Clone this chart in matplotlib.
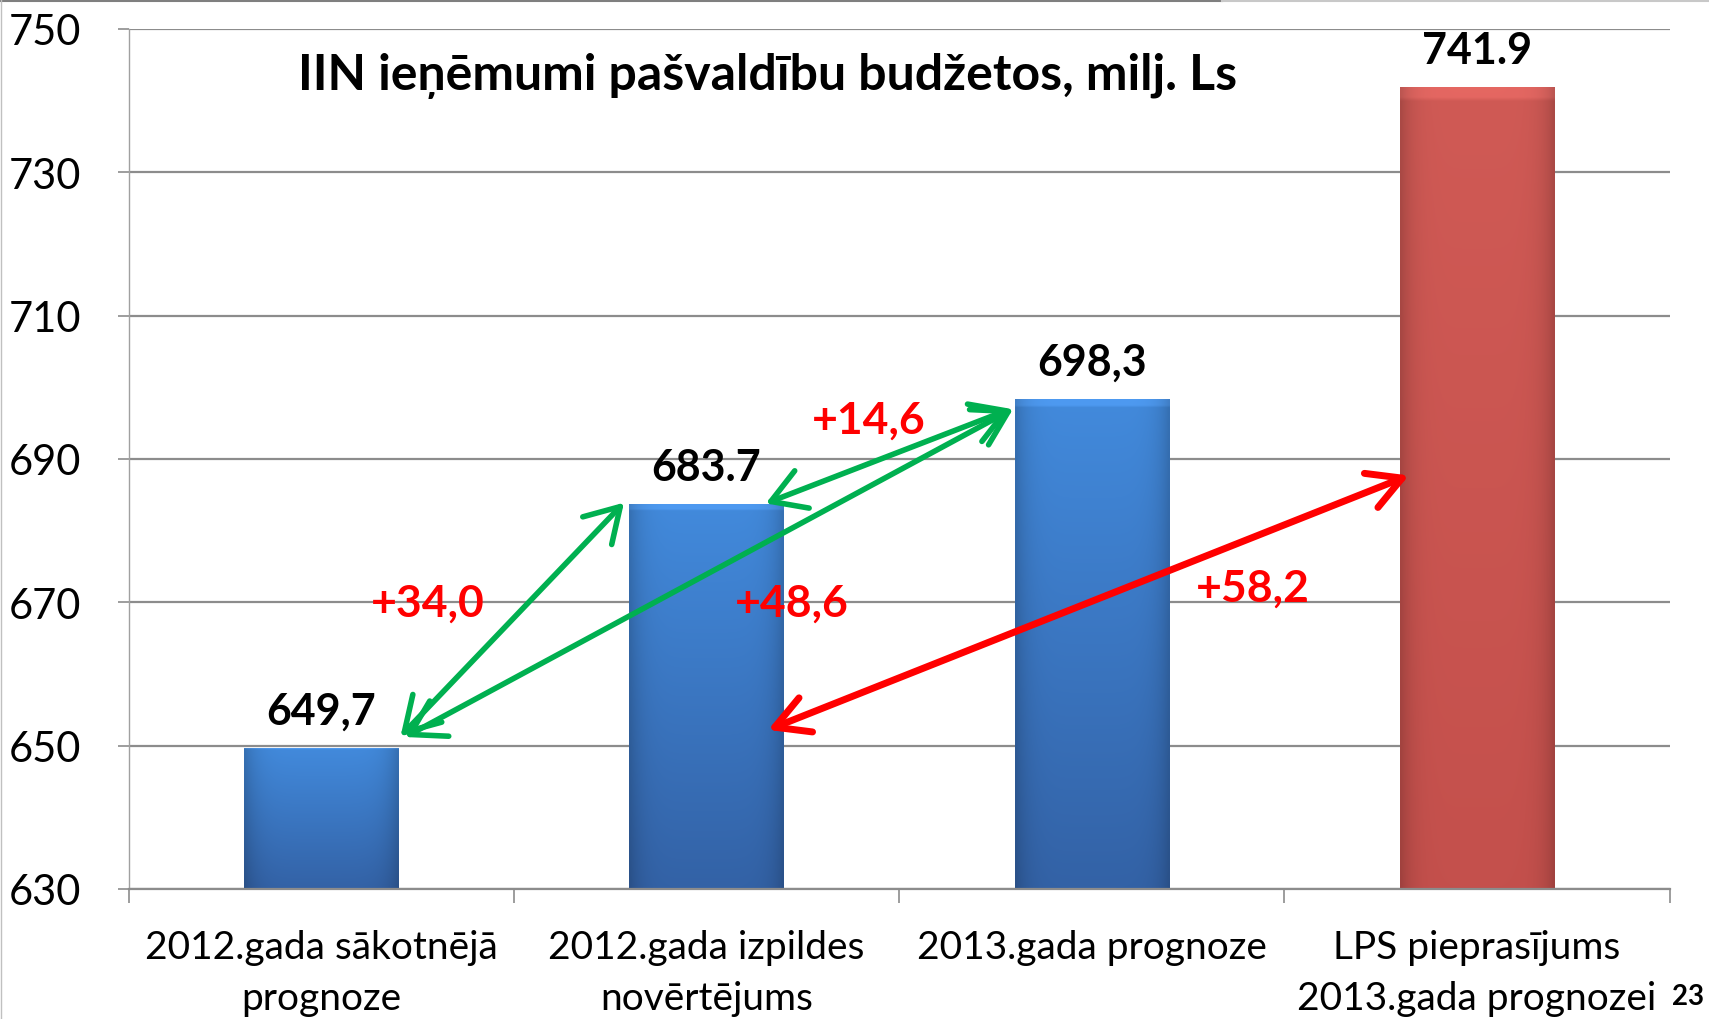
import numpy as np
import matplotlib.pyplot as plt
from matplotlib.lines import Line2D

plt.rcParams['font.family'] = ['Lato', 'DejaVu Sans']

# data
categories = ["2012.gada sākotnējā\nprognoze", "2012.gada izpildes\nnovērtējums",
              "2013.gada prognoze", "LPS pieprasījums\n2013.gada prognozei"]
values = [649.7, 683.7, 698.3, 741.9]
value_labels = ["649,7", "683.7", "698,3", "741.9"]
y_ticks = [630, 650, 670, 690, 710, 730, 750]
title = "IIN ieņēmumi pašvaldību budžetos, milj. Ls"

# difference arrows (x0, y0, x1, y1) in data units
green_arrows = [(0.206, 651.3, 0.786, 683.9),
                (0.218, 651.2, 1.796, 697.0),
                (1.154, 683.8, 1.790, 697.0)]
red_arrows = [(1.160, 652.2, 2.823, 687.7)]
diff_labels = ["+34,0", "+48,6", "+14,6", "+58,2"]
diff_x = [0.277, 1.222, 1.42, 2.419]
diff_y = [670.0, 670.0, 695.5, 672.0]

blue_top, blue_bot = np.array([0x42, 0x8A, 0xDC]) / 255, np.array([0x33, 0x62, 0xA6]) / 255
red_top, red_bot = np.array([0xD0, 0x5A, 0x55]) / 255, np.array([0xC4, 0x50, 0x4C]) / 255
bar_colors = [(blue_top, blue_bot)] * 3 + [(red_top, red_bot)]

fig = plt.figure(figsize=(17.09, 10.20), dpi=100)
ax = fig.add_axes([0.0752, 0.1275, 0.9018, 0.8431])

x = np.arange(len(values))
width = 0.40
ymin, ymax = 630, 750

bars = ax.bar(x, [v - ymin for v in values], width, bottom=ymin, color='none',
              edgecolor='none', zorder=2)

# gradient fill for each bar
for b, (top, bot) in zip(bars, bar_colors):
    n, m = 200, 60
    t = np.linspace(0, 1, n)[:, None, None]
    u = np.linspace(-1, 1, m)[None, :, None]
    img = top * (1 - t) + bot * t
    img = img * (1 - 0.18 * np.abs(u) ** 6)
    img[:3] = np.clip(img[:3] * 1.06 + 0.03, 0, 1)
    im = ax.imshow(np.clip(img, 0, 1), extent=(b.get_x(), b.get_x() + b.get_width(),
                                               ymin, b.get_y() + b.get_height()),
                   aspect='auto', origin='upper', zorder=2, interpolation='bilinear')
    im.set_clip_path(b)

ax.set_xlim(-0.5, len(values) - 0.5)
ax.set_ylim(ymin, ymax)

# axes styling
ax.set_yticks(y_ticks)
ax.set_yticklabels([str(t) for t in y_ticks], fontsize=30)
ax.tick_params(axis='y', length=8, width=1.2, color='#8c8c8c', pad=26)
ax.yaxis.grid(True, color='#8c8c8c', linewidth=1.6, zorder=0)
ax.set_axisbelow(True)

ax.set_xticks(np.arange(len(values) + 1) - 0.5)
ax.set_xticklabels([])
ax.set_xticks(x, minor=True)
ax.set_xticklabels(categories, minor=True, fontsize=28, linespacing=1.52)
ax.tick_params(axis='x', which='major', length=10, width=1.2, color='#8c8c8c')
ax.tick_params(axis='x', which='minor', length=0, pad=29)

for s in ['top', 'right']:
    ax.spines[s].set_visible(False)
ax.spines['left'].set_color('#a0a0a0')
ax.spines['left'].set_linewidth(1.0)
ax.spines['bottom'].set_color('#8c8c8c')
ax.spines['bottom'].set_linewidth(1.6)

# value labels
for xi, v, lab in zip(x, values, value_labels):
    ax.annotate(lab, (xi, v), xytext=(0, 27), textcoords='offset points',
                ha='center', va='center', fontsize=31, fontweight='bold',
                color='black', zorder=5)

# arrows
for x0, y0, x1, y1 in green_arrows:
    ax.annotate("", xy=(x1, y1), xytext=(x0, y0),
                arrowprops=dict(arrowstyle="<->,head_length=1.0,head_width=0.6",
                                mutation_scale=24, color='#00B050', lw=4,
                                shrinkA=0, shrinkB=0), zorder=4)
for x0, y0, x1, y1 in red_arrows:
    ax.annotate("", xy=(x1, y1), xytext=(x0, y0),
                arrowprops=dict(arrowstyle="<->,head_length=1.0,head_width=0.55",
                                mutation_scale=24, color='#FF0000', lw=5,
                                shrinkA=0, shrinkB=0), zorder=4)

for lab, xx, yy in zip(diff_labels, diff_x, diff_y):
    ax.text(xx, yy, lab, ha='center', va='center', fontsize=32,
            fontweight='bold', color='#FF0000', zorder=6)

# title and slide number
fig.text(768 / 1709, 1 - 76 / 1020, title, ha='center', va='center',
         fontsize=36, fontweight='bold', color='black')
fig.text(1688 / 1709, 1 - 997 / 1020, "23", ha='center', va='center',
         fontsize=20, fontweight='bold', color='black')

# slide frame lines
fig.add_artist(Line2D([0, 0.715], [0.998, 0.998], color='#7f7f7f', lw=1.5))
fig.add_artist(Line2D([0.715, 1], [0.998, 0.998], color='#c8c8c8', lw=1.5))
fig.add_artist(Line2D([0.0008, 0.0008], [0, 1], color='#c0c0c0', lw=1.0))

fig.savefig('out.png', dpi=100, facecolor='white')
